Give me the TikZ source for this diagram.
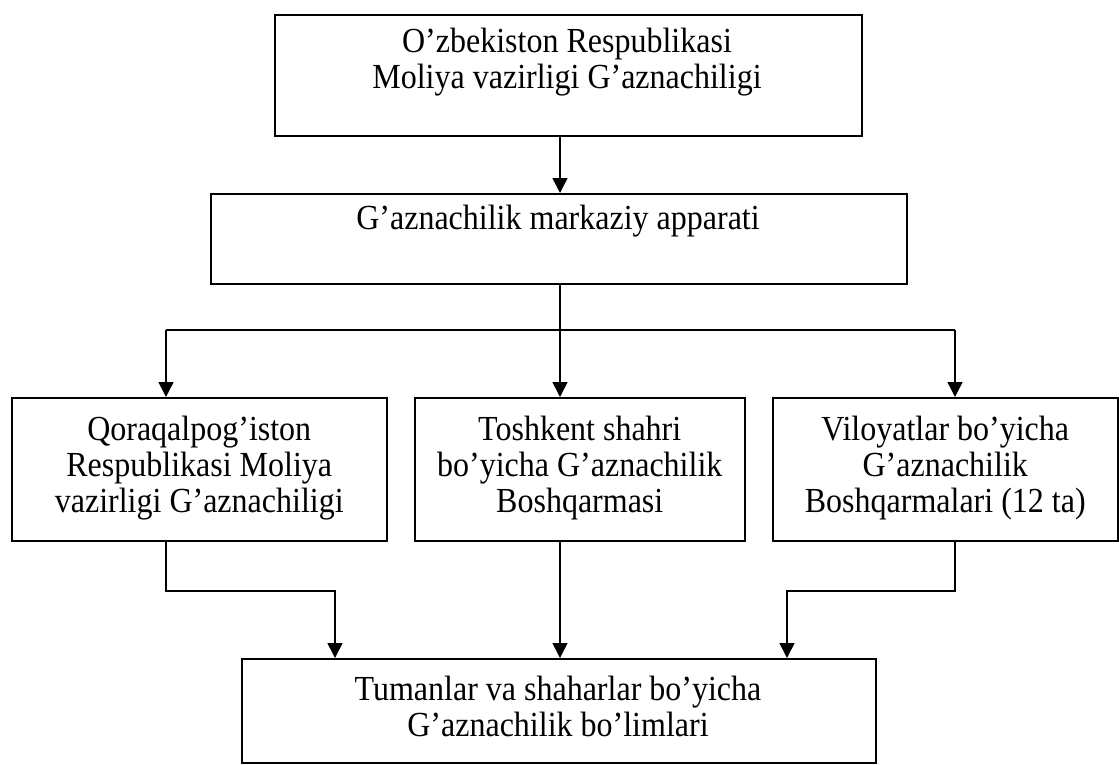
\documentclass[tikz,border=0pt]{standalone}
\usepackage{fontspec}
\usepackage{graphicx}
\setmainfont{Liberation Serif}
\usetikzlibrary{arrows.meta}
\newcommand\bxt[1]{\scalebox{1}[1.1]{\begin{tabular}{@{}c@{}}#1\end{tabular}}}
\begin{document}
\begin{tikzpicture}[x=1pt,y=-1pt,
  box/.style={draw,line width=1.5pt,inner sep=0pt,anchor=north west},
  txt/.style={inner sep=0pt,font=\fontsize{32}{33}\selectfont},
  conn/.style={line width=1.5pt},
  arr/.style={line width=1.5pt,-{Triangle[width=15pt,length=15pt]}}]
\useasboundingbox (0,0) rectangle (1119,764);
% boxes
\node[box,minimum width=587pt,minimum height=121pt] (top) at (274,14) {};
\node[box,minimum width=696pt,minimum height=90pt] (mid) at (210,193) {};
\node[box,minimum width=375pt,minimum height=143pt] (left) at (11,397) {};
\node[box,minimum width=330pt,minimum height=143pt] (center) at (414,397) {};
\node[box,minimum width=345pt,minimum height=143pt] (right) at (772,397) {};
\node[box,minimum width=634pt,minimum height=104pt] (bottom) at (241,658) {};
% texts
\node[txt] (toptext) at (567,63) {\bxt{O’zbekiston Respublikasi\\Moliya vazirligi G’aznachiligi}};
\node[txt] (midtext) at (558,222) {\bxt{G’aznachilik markaziy apparati}};
\node[txt] (lefttext) at (left.center) {\bxt{Qoraqalpog’iston\\Respublikasi Moliya\\vazirligi G’aznachiligi}};
\node[txt] (centertext) at (center.center) {\bxt{Toshkent shahri\\bo’yicha G’aznachilik\\Boshqarmasi}};
\node[txt] (righttext) at (right.center) {\bxt{Viloyatlar bo’yicha\\G’aznachilik\\Boshqarmalari (12 ta)}};
\node[txt] (bottomtext) at (558,711) {\bxt{Tumanlar va shaharlar bo’yicha\\G’aznachilik bo’limlari}};
% connector points
\coordinate (hc) at (560,330);
\coordinate (hl) at (166,330);
\coordinate (hr) at (955,330);
\coordinate (jl) at (166,591);
\coordinate (jl2) at (335,591);
\coordinate (jr) at (955,591);
\coordinate (jr2) at (787,591);
% connectors
\draw[arr] (top.south -| hc) -- (mid.north -| hc);
\draw[conn] (mid.south -| hc) -- (hc);
\draw[conn] (hl) -- (hr);
\draw[arr] (hl) -- (hl |- left.north);
\draw[arr] (hc) -- (hc |- center.north);
\draw[arr] (hr) -- (hr |- right.north);
\draw[arr] (jl |- left.south) -- (jl) -- (jl2) -- (jl2 |- bottom.north);
\draw[arr] (hc |- center.south) -- (hc |- bottom.north);
\draw[arr] (jr |- right.south) -- (jr) -- (jr2) -- (jr2 |- bottom.north);
\end{tikzpicture}
\end{document}
